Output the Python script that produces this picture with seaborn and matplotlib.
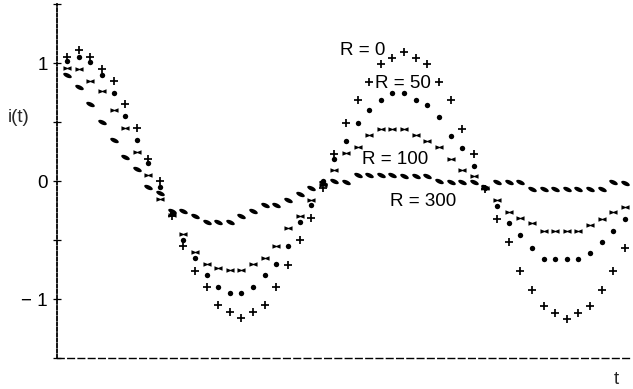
import numpy as np
import pandas as pd
import matplotlib
matplotlib.use("Agg")
import matplotlib.pyplot as plt
from matplotlib.path import Path
import seaborn as sns

# sample times
t = np.round(np.arange(1, 50) * 0.1, 1)

# current i(t) for each resistance
i_r0 = [1.05, 1.11, 1.05, 0.95, 0.85, 0.65, 0.45, 0.19, 0.00, -0.30,
        -0.55, -0.76, -0.90, -1.05, -1.11, -1.16, -1.11, -1.05, -0.90, -0.71,
        -0.50, -0.31, -0.06, 0.23, 0.49, 0.69, 0.84, 0.99, 1.04, 1.09,
        1.04, 0.99, 0.84, 0.69, 0.44, 0.23, -0.07, -0.32, -0.52, -0.76,
        -0.92, -1.06, -1.12, -1.17, -1.12, -1.06, -0.92, -0.76, -0.57]
i_r50 = [1.02, 1.05, 1.01, 0.90, 0.75, 0.55, 0.35, 0.15, -0.05, -0.27,
         -0.50, -0.65, -0.80, -0.90, -0.95, -0.95, -0.90, -0.80, -0.70, -0.55,
         -0.35, -0.20, 0.00, 0.19, 0.34, 0.49, 0.60, 0.69, 0.75, 0.75,
         0.69, 0.64, 0.54, 0.38, 0.28, 0.13, -0.06, -0.21, -0.36, -0.46,
         -0.57, -0.66, -0.66, -0.66, -0.66, -0.61, -0.52, -0.42, -0.32]
i_r100 = [0.96, 0.95, 0.85, 0.76, 0.60, 0.45, 0.25, 0.05, -0.15, -0.29,
          -0.45, -0.60, -0.70, -0.74, -0.75, -0.75, -0.70, -0.65, -0.55, -0.40,
          -0.30, -0.16, -0.03, 0.09, 0.24, 0.29, 0.39, 0.44, 0.44, 0.44,
          0.39, 0.34, 0.29, 0.19, 0.09, 0.04, -0.06, -0.16, -0.26, -0.31,
          -0.36, -0.42, -0.42, -0.42, -0.42, -0.37, -0.32, -0.26, -0.22]
i_r300 = [0.90, 0.80, 0.65, 0.50, 0.35, 0.20, 0.10, -0.05, -0.10, -0.25,
          -0.25, -0.30, -0.35, -0.35, -0.35, -0.30, -0.25, -0.20, -0.20, -0.16,
          -0.11, -0.06, -0.02, 0.00, -0.01, 0.05, 0.05, 0.05, 0.05, 0.04,
          0.04, 0.04, 0.00, -0.01, -0.01, -0.01, -0.05, -0.01, -0.01, -0.01,
          -0.07, -0.07, -0.07, -0.07, -0.07, -0.07, -0.07, -0.01, -0.02]
labels = ["R = 0", "R = 50", "R = 100", "R = 300"]

df = pd.DataFrame({
    "t": np.tile(t, 4),
    "i": np.concatenate([i_r0, i_r50, i_r100, i_r300]),
    "R": np.repeat(labels, len(t)),
})

sns.set_style("white")
plt.rcParams["font.family"] = ["Liberation Sans", "DejaVu Sans"]

fig = plt.figure(figsize=(6.33, 3.89), dpi=100)
ax = fig.add_axes([57 / 633, 31 / 389, 575 / 633, 354 / 389])

# marker shapes: bow tie and a slanted ellipse
bowtie = Path([(-1, -0.55), (-1, 0.55), (0, 0.15), (1, 0.55), (1, -0.55),
               (0, -0.15), (-1, -0.55)], closed=True)
ang = np.deg2rad(-25)
th = np.linspace(0, 2 * np.pi, 25)
ex, ey = np.cos(th), 0.45 * np.sin(th)
ellipse = Path(np.column_stack([ex * np.cos(ang) - ey * np.sin(ang),
                                ex * np.sin(ang) + ey * np.cos(ang)]), closed=True)

styles = {
    "R = 0": dict(marker="+", s=28, linewidth=1.25),
    "R = 50": dict(marker="o", s=15, linewidth=0),
    "R = 100": dict(marker=bowtie, s=34, linewidth=0),
    "R = 300": dict(marker=ellipse, s=38, linewidth=0),
}
for r in labels:
    sns.scatterplot(data=df[df["R"] == r], x="t", y="i", color="black",
                    ax=ax, legend=False, **styles[r])

# series annotations
label_pos = {"R = 0": (2.450, 1.064), "R = 50": (2.751, 0.790),
             "R = 100": (2.636, 0.146), "R = 300": (2.881, -0.214)}
for r, (x, y) in label_pos.items():
    ax.text(x, y, r, ha="left", va="baseline", fontsize=13.5, color="black")

ax.set_xlim(0.013, 4.961)
ax.set_ylim(-1.5, 1.5)
ax.set_xticks([])
ax.set_yticks([-1.5, -1, -0.5, 0, 0.5, 1, 1.5])
ax.set_yticklabels(["", "\u2212 1", "", "0", "", "1", ""])
ax.tick_params(axis="y", direction="inout", length=5.5, width=0.9, pad=4.0,
               labelsize=13.5, colors="black", left=True)

for side in ("top", "right"):
    ax.spines[side].set_visible(False)
ax.spines["left"].set_linewidth(1.3)
ax.spines["left"].set_linestyle((0, (1.8, 1.2)))
ax.spines["bottom"].set_linewidth(1.0)
ax.spines["bottom"].set_linestyle((0, (4.8, 2.6)))
for side in ("left", "bottom"):
    ax.spines[side].set_color("black")

ax.set_ylabel("i(t)", rotation=0, fontsize=13.5, ha="center", va="center")
ax.yaxis.set_label_coords(-0.066, 0.678)
ax.set_xlabel("t", fontsize=13.5, va="baseline")
ax.xaxis.set_label_coords(0.972, -0.074)

fig.savefig("out.png", dpi=100)
